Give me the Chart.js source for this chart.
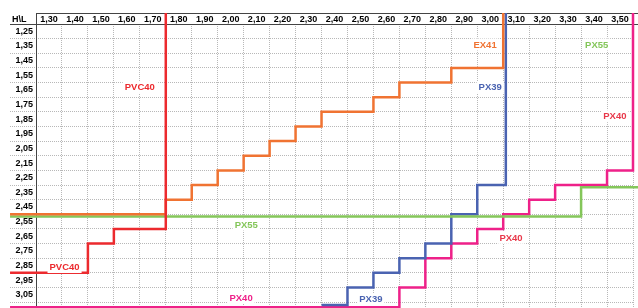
<!DOCTYPE html>
<html>
<head>
<meta charset="utf-8">
<script src="https://cdn.jsdelivr.net/npm/chart.js@4.4.1/dist/chart.umd.min.js"></script>
<style>
  body { margin: 0; background: #fff; }
  #wrap { width: 638px; height: 308px; }
</style>
</head>
<body>
<div id="wrap"><canvas id="myChart" width="638" height="308"></canvas></div>
<script>
// column headings (L) and row headings (H)
let widthTicks = [1.30, 1.40, 1.50, 1.60, 1.70, 1.80, 1.90, 2.00, 2.10, 2.20, 2.30, 2.40,
                  2.50, 2.60, 2.70, 2.80, 2.90, 3.00, 3.10, 3.20, 3.30, 3.40, 3.50];
let heightTicks = [1.25, 1.35, 1.45, 1.55, 1.65, 1.75, 1.85, 1.95, 2.05, 2.15, 2.25, 2.35,
                   2.45, 2.55, 2.65, 2.75, 2.85, 2.95, 3.05];

// step points of each profile (L, H)
let seriesNames = ['PVC40', 'EX41', 'PX55', 'PX39', 'PX40'];
let pvc40L = [1.15, 1.45, 1.55, 1.75];
let pvc40H = [2.90, 2.70, 2.60, 1.125];
let ex41L = [1.15, 1.75, 1.85, 1.95, 2.05, 2.15, 2.25, 2.35, 2.55, 2.65, 2.85, 3.05];
let ex41H = [2.50, 2.40, 2.30, 2.20, 2.10, 2.00, 1.90, 1.80, 1.70, 1.60, 1.50, 1.125];
let px55L = [1.15, 3.35, 3.57];
let px55H = [2.515, 2.315, 2.315];
let px39L = [2.35, 2.45, 2.55, 2.65, 2.75, 2.85, 2.95, 3.06];
let px39H = [3.12, 3.00, 2.90, 2.80, 2.70, 2.50, 2.30, 1.125];
let px40L = [1.15, 2.65, 2.75, 2.85, 2.95, 3.05, 3.15, 3.25, 3.45, 3.55];
let px40H = [3.135, 3.00, 2.80, 2.70, 2.60, 2.50, 2.40, 2.30, 2.20, 1.125];

// name tags written inside the grid
let noteText = ['PVC40', 'PVC40', 'EX41', 'PX55', 'PX55', 'PX39', 'PX39', 'PX40', 'PX40', 'PX40'];
let noteL = [1.65, 1.36, 2.98, 3.41, 2.06, 3.00, 2.54, 3.48, 3.08, 2.04];
let noteH = [1.63, 2.86, 1.34, 1.34, 2.57, 1.63, 3.08, 1.83, 2.66, 3.07];

// colours
let lineColors = ['#ec2a2e', '#f07332', '#84c65a', '#4a63b1', '#ee2189'];
let noteColors = ['#ec2a2e', '#ec2a2e', '#f07332', '#84c65a', '#84c65a',
                  '#4a63b1', '#4a63b1', '#e8384a', '#e8384a', '#ee2189'];
let gridColor = '#b8b8b8';
let frameColor = '#444';
let fontFamily = '"Liberation Sans", Arial, sans-serif';

function to_points(xs, ys) {
    return xs.map((v, i) => ({ x: v, y: ys[i] }));
}

function fmt(v) {
    return Number(v).toFixed(2).replace('.', ',');
}

// table frame: header lines, label column edge, corner text
const tableFrame = {
    id: 'tableFrame',
    beforeDatasetsDraw(chart) {
        const ctx = chart.ctx;
        const xs = chart.scales.x;
        const ys = chart.scales.y;
        ctx.save();
        ctx.strokeStyle = frameColor;
        ctx.lineWidth = 1;
        ctx.beginPath();
        ctx.moveTo(ys.right, Math.round(xs.top) + 0.5);
        ctx.lineTo(chart.width, Math.round(xs.top) + 0.5);
        ctx.moveTo(ys.left, Math.round(xs.bottom) + 0.5);
        ctx.lineTo(chart.width, Math.round(xs.bottom) + 0.5);
        ctx.moveTo(Math.round(ys.right) + 0.5, xs.top);
        ctx.lineTo(Math.round(ys.right) + 0.5, ys.bottom);
        ctx.stroke();
        ctx.fillStyle = '#000';
        ctx.font = 'bold 9px ' + fontFamily;
        ctx.textBaseline = 'middle';
        ctx.textAlign = 'left';
        ctx.fillText('H\\L', ys.left + 2, (xs.top + xs.bottom) / 2 + 1);
        ctx.restore();
    }
};

// name tags with a white box behind them
const nameTags = {
    id: 'nameTags',
    afterDatasetsDraw(chart) {
        const ctx = chart.ctx;
        const xs = chart.scales.x;
        const ys = chart.scales.y;
        ctx.save();
        ctx.font = 'bold 9.5px ' + fontFamily;
        ctx.textAlign = 'center';
        ctx.textBaseline = 'middle';
        for (let i = 0; i < noteText.length; i++) {
            let px = xs.getPixelForValue(noteL[i]);
            let py = ys.getPixelForValue(noteH[i]);
            let w = ctx.measureText(noteText[i]).width;
            ctx.fillStyle = '#fff';
            ctx.fillRect(px - w / 2 - 2, py - 6, w + 4, 12);
            ctx.fillStyle = noteColors[i];
            ctx.fillText(noteText[i], px, py + 0.5);
        }
        ctx.restore();
    }
};

let seriesL = [pvc40L, ex41L, px55L, px39L, px40L];
let seriesH = [pvc40H, ex41H, px55H, px39H, px40H];

let ChartInst = new Chart(document.getElementById('myChart'), {
    type: 'line',
    data: {
        datasets: seriesNames.map((name, i) => ({
            label: name,
            data: to_points(seriesL[i], seriesH[i]),
            borderColor: lineColors[i],
            backgroundColor: lineColors[i],
            borderWidth: 2.5,
            pointRadius: 0,
            stepped: 'before',
            fill: false,
            clip: false
        }))
    },
    options: {
        responsive: false,
        animation: false,
        devicePixelRatio: 1,
        layout: { padding: { left: 10, top: 13, right: 5, bottom: 0 } },
        plugins: {
            legend: { display: false },
            tooltip: { enabled: false }
        },
        scales: {
            x: {
                type: 'linear',
                position: 'top',
                min: 1.25,
                max: 3.55,
                afterBuildTicks: (scale) => { scale.ticks = widthTicks.map(v => ({ value: v })); },
                afterFit: (scale) => { scale.height = 11; },
                ticks: {
                    autoSkip: false,
                    maxRotation: 0,
                    padding: 0,
                    color: '#000',
                    font: { family: fontFamily, size: 9, weight: 'bold', lineHeight: 1 },
                    callback: fmt
                },
                grid: { offset: true, color: gridColor, drawTicks: false },
                border: { display: false, dash: [1, 1] }
            },
            y: {
                type: 'linear',
                reverse: true,
                min: 1.20,
                max: 3.14,
                afterBuildTicks: (scale) => { scale.ticks = heightTicks.map(v => ({ value: v })); },
                afterFit: (scale) => { scale.width = 26; },
                ticks: {
                    autoSkip: false,
                    padding: -23,
                    color: '#000',
                    font: { family: fontFamily, size: 9, weight: 'bold', lineHeight: 1 },
                    callback: fmt
                },
                grid: {
                    offset: true, color: gridColor, drawTicks: true, tickLength: 26,
                    tickColor: gridColor, tickBorderDash: [1, 1]
                },
                border: { display: false, dash: [1, 1] }
            }
        }
    },
    plugins: [tableFrame, nameTags]
});
</script>
</body>
</html>
